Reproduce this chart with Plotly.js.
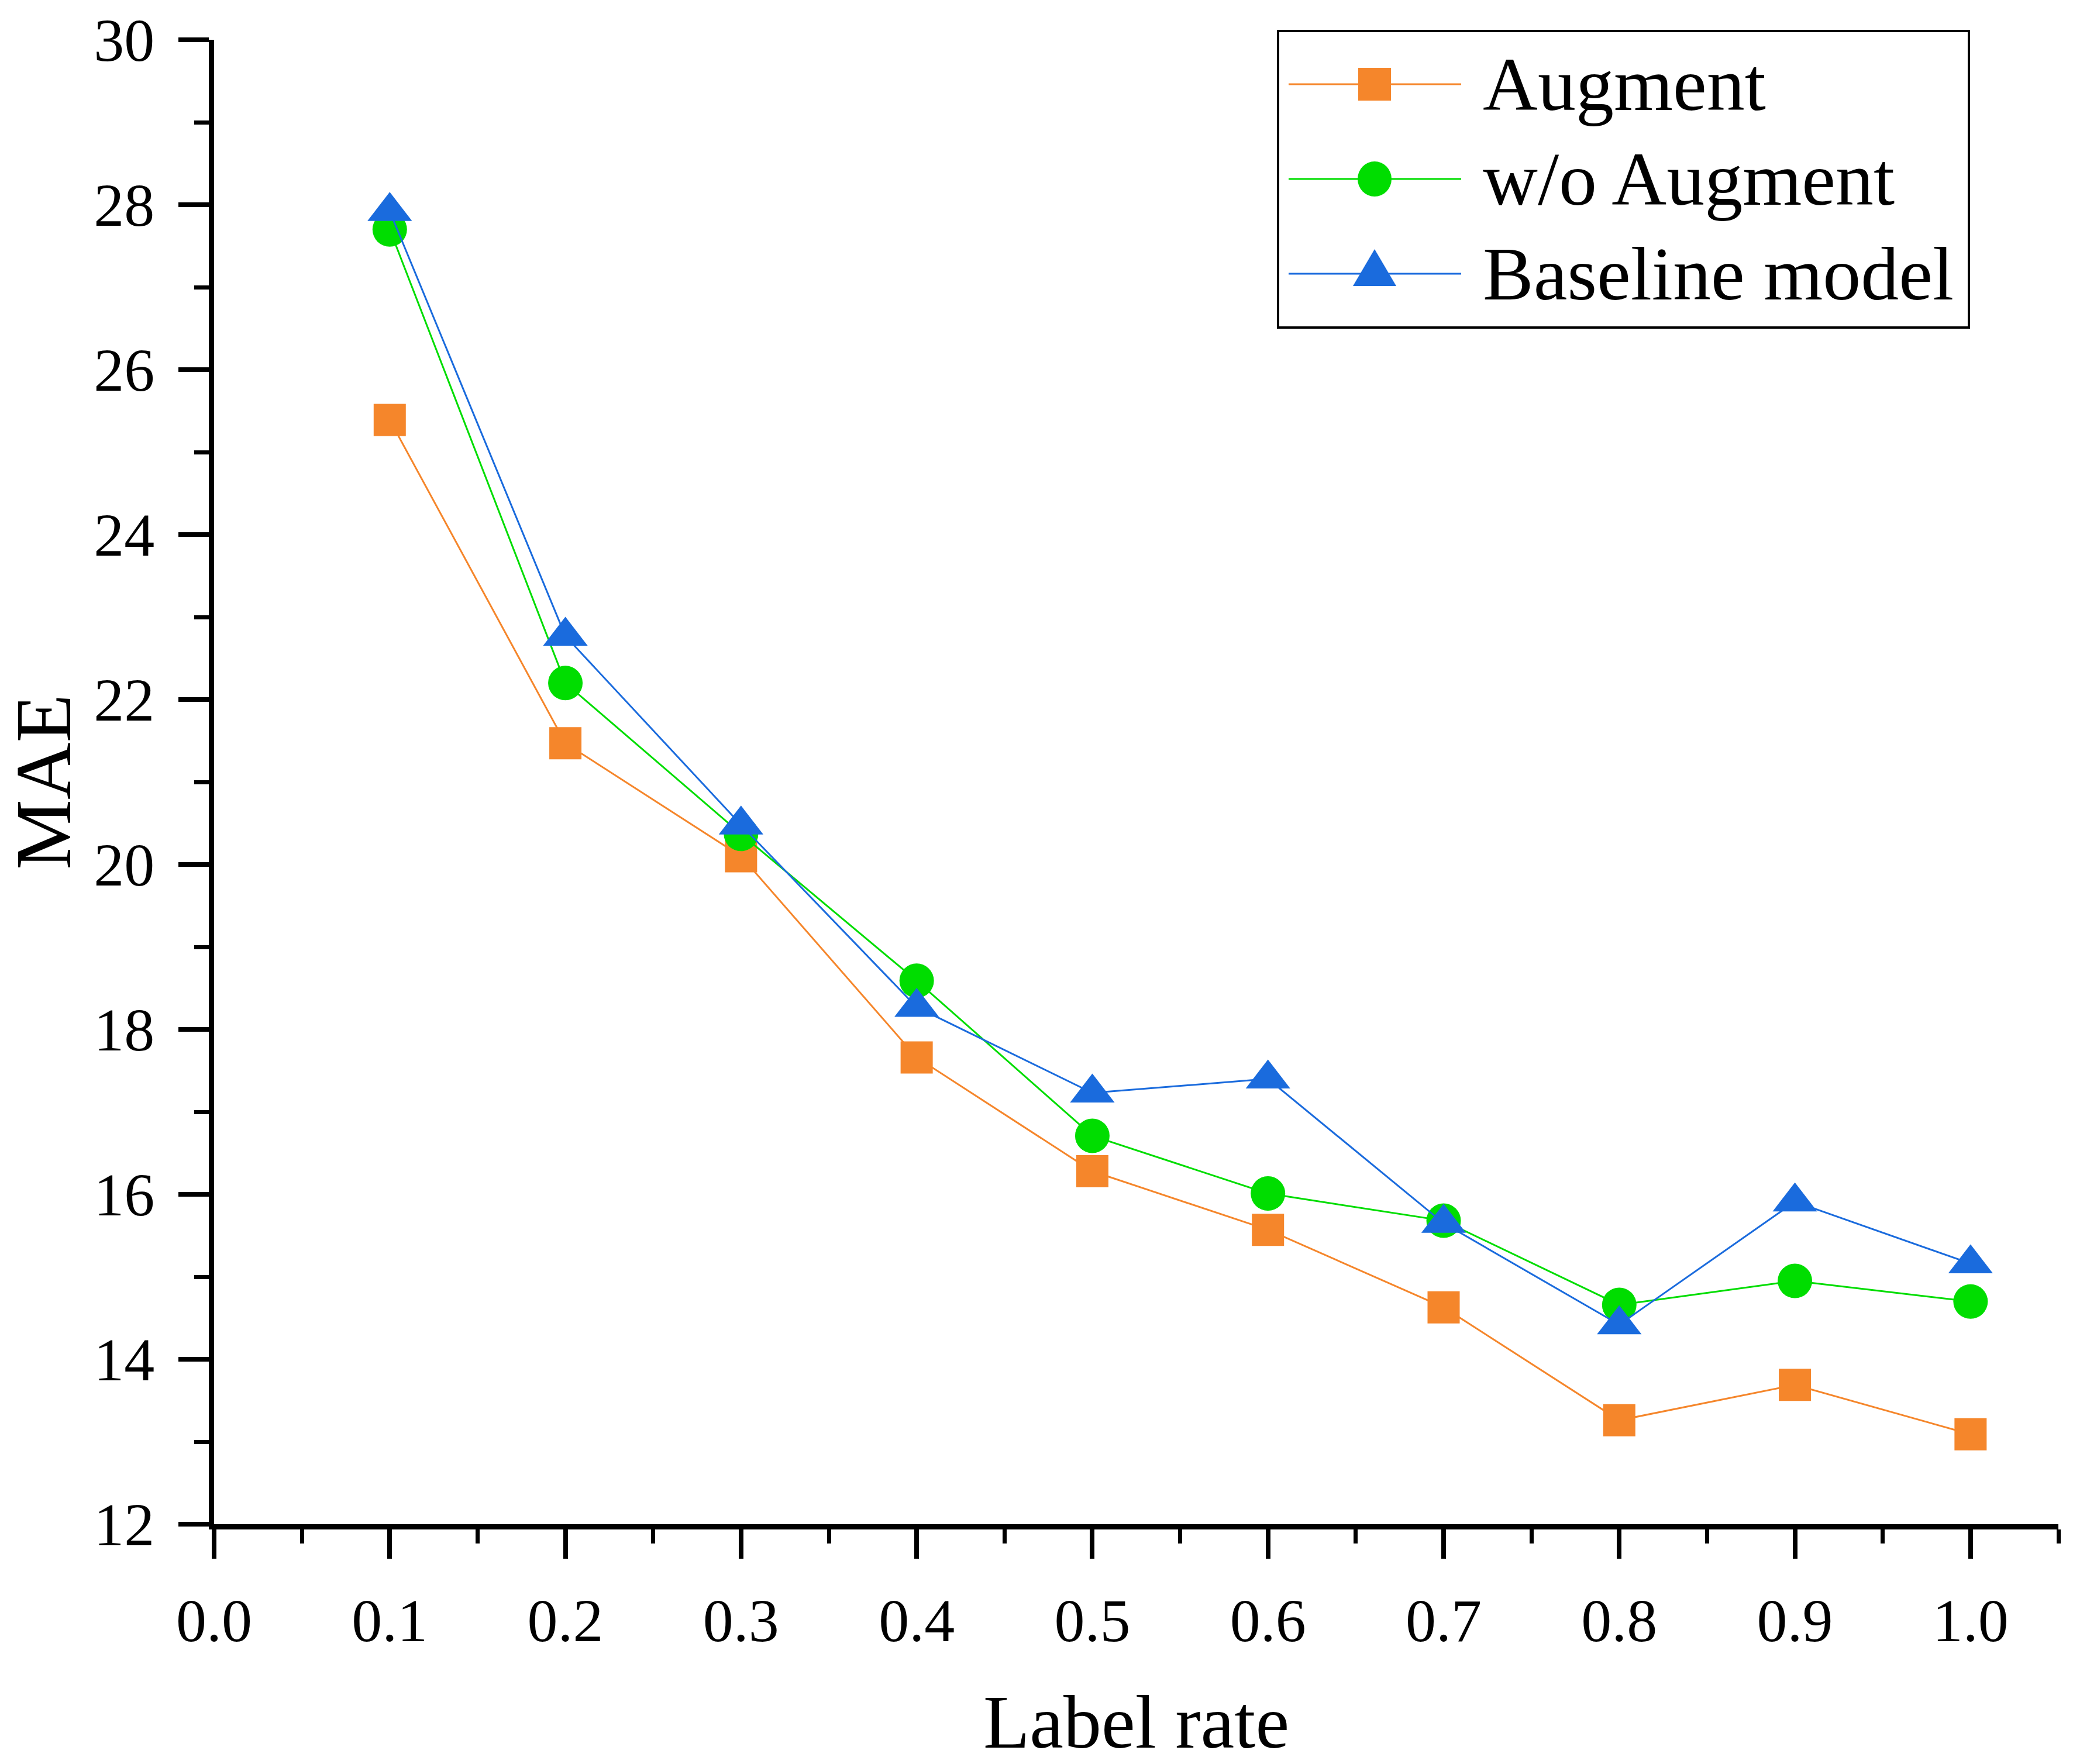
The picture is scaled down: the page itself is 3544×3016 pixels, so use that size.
<!DOCTYPE html>
<html>
<head>
<meta charset="utf-8">
<script src="https://cdn.plot.ly/plotly-3.0.1.min.js"></script>
<style>
  body { margin: 0; background: #fff; }
  #graph { width: 3544px; height: 3016px; }
</style>
</head>
<body>
<div id="graph"></div>
<script>
// values
var labelRate = [0.1, 0.2, 0.3, 0.4, 0.5, 0.6, 0.7, 0.8, 0.9, 1.0]
var augment = [25.39, 21.47, 20.10, 17.66, 16.28, 15.57, 14.63, 13.26, 13.69, 13.09]
var woAugment = [27.70, 22.20, 20.37, 18.59, 16.71, 16.01, 15.68, 14.66, 14.95, 14.70]
var baseline = [27.92, 22.77, 20.48, 18.27, 17.23, 17.40, 15.65, 14.42, 15.91, 15.16]
var seriesNames = ['Augment', 'w/o Augment', 'Baseline model']

var colors = ['#F5862B', '#00DD00', '#1A6BDD']
var symbols = ['square', 'circle', 'triangle-up']
var sizes = [55, 59, 66]
var font = 'Liberation Serif, Times New Roman, serif'

var series = [augment, woAugment, baseline]
var data = series.map(function (ys, i) {
    return {
        x: labelRate,
        y: ys,
        type: 'scatter',
        mode: 'lines+markers',
        name: seriesNames[i],
        line: { color: colors[i], width: 3 },
        marker: { symbol: symbols[i], size: sizes[i], color: colors[i], line: { width: 0 } },
        cliponaxis: false
    }
})

// plot area in page pixels, used to place the hand drawn legend
var L = 366, T = 68, W = 3153, H = 2538
function px(x) { return (x - L) / W }
function py(y) { return (T + H - y) / H }

var shapes = [{
    type: 'rect', xref: 'paper', yref: 'paper',
    x0: px(2185), x1: px(3366), y0: py(560), y1: py(53),
    line: { color: '#000', width: 4 }, fillcolor: 'rgba(0,0,0,0)'
}]
var annotations = []

seriesNames.forEach(function (name, i) {
    var cy = 144 + 162 * i
    var cx = 2350
    shapes.push({
        type: 'line', xref: 'paper', yref: 'paper',
        x0: px(2203), x1: px(2498), y0: py(cy), y1: py(cy),
        line: { color: colors[i], width: 3 }
    })
    if (symbols[i] == 'square') {
        shapes.push({
            type: 'rect', xref: 'paper', yref: 'paper',
            x0: px(cx - 28), x1: px(cx + 28), y0: py(cy + 28), y1: py(cy - 28),
            fillcolor: colors[i], line: { width: 0 }
        })
    } else if (symbols[i] == 'circle') {
        shapes.push({
            type: 'circle', xref: 'paper', yref: 'paper',
            x0: px(cx - 29), x1: px(cx + 29), y0: py(cy + 30), y1: py(cy - 30),
            fillcolor: colors[i], line: { width: 0 }
        })
    } else {
        shapes.push({
            type: 'path', xref: 'paper', yref: 'paper',
            path: 'M' + px(cx - 37) + ',' + py(cy + 21) + ' L' + px(cx + 37) + ',' + py(cy + 21) +
                ' L' + px(cx) + ',' + py(cy - 42) + ' Z',
            fillcolor: colors[i], line: { width: 0 }
        })
    }
    annotations.push({
        xref: 'paper', yref: 'paper', x: px(2533), y: py(cy),
        xanchor: 'left', yanchor: 'middle', showarrow: false,
        text: name, font: { family: font, size: 130, color: '#000' }
    })
})

var layout = {
    width: 3544,
    height: 3016,
    margin: { l: 366, r: 25, t: 68, b: 410, pad: 0 },
    paper_bgcolor: '#fff',
    plot_bgcolor: '#fff',
    showlegend: false,
    font: { family: font, color: '#000' },
    xaxis: {
        range: [0, 1.05],
        tickmode: 'linear', tick0: 0, dtick: 0.1, tickformat: '.1f',
        ticks: 'outside', ticklen: 50, tickwidth: 8, tickcolor: '#000',
        minor: { tickmode: 'linear', tick0: 0, dtick: 0.05, ticks: 'outside', ticklen: 24, tickwidth: 7, tickcolor: '#000', showgrid: false },
        showline: true, linewidth: 9, linecolor: '#000',
        showgrid: false, zeroline: false,
        ticklabelstandoff: 16,
        tickfont: { family: font, size: 104, color: '#000' },
        title: { text: 'Label rate', font: { family: font, size: 130, color: '#000' }, standoff: 74 },
        automargin: false
    },
    yaxis: {
        range: [12, 30],
        tickmode: 'linear', tick0: 12, dtick: 2,
        ticks: 'outside', ticklen: 52, tickwidth: 8, tickcolor: '#000',
        minor: { tickmode: 'linear', tick0: 12, dtick: 1, ticks: 'outside', ticklen: 25, tickwidth: 7, tickcolor: '#000', showgrid: false },
        showline: true, linewidth: 9, linecolor: '#000',
        showgrid: false, zeroline: false,
        ticklabelstandoff: 20,
        tickfont: { family: font, size: 104, color: '#000' },
        title: { text: 'MAE', font: { family: font, size: 135, color: '#000' }, standoff: 26 },
        automargin: false
    },
    shapes: shapes,
    annotations: annotations
}

Plotly.newPlot('graph', data, layout, { staticPlot: true })
</script>
</body>
</html>
